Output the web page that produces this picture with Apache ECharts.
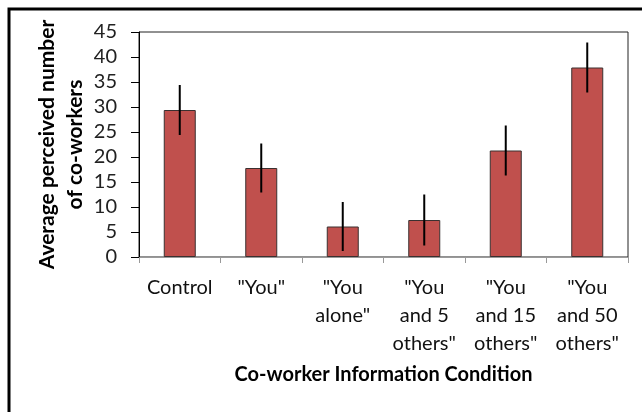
<!DOCTYPE html>
<html>
<head>
<meta charset="utf-8">
<script src="https://cdn.jsdelivr.net/npm/echarts@6/dist/echarts.min.js"></script>
<style>
  html, body { margin: 0; padding: 0; background: #fff; }
  #main { width: 642px; height: 412px; }
</style>
</head>
<body>
<div id="main"></div>
<script>
// data
var categories = ['Control', '"You"', '"You\nalone"', '"You\nand 5\nothers"', '"You\nand 15\nothers"', '"You\nand 50\nothers"'];
var means = [29.4, 17.8, 6.1, 7.4, 21.3, 37.9];
var errors = [5.0, 4.9, 4.9, 5.1, 5.0, 5.0];
var yTicks = [0, 5, 10, 15, 20, 25, 30, 35, 40, 45];

var fontFamily = 'Lato, "Open Sans", sans-serif';

var myChart = echarts.init(document.getElementById('main'));

var errData = means.map(function (m, i) {
  return [i, m - errors[i], m + errors[i]];
});

var option = {
  animation: false,
  backgroundColor: '#fff',
  graphic: [{
    type: 'rect',
    shape: { x: 9, y: 9, width: 700, height: 500 },
    style: { fill: 'none', stroke: '#000', lineWidth: 3 }
  }],
  grid: {
    left: 139,
    right: 14,
    top: 32,
    bottom: 155,
    show: true,
    borderColor: '#222',
    borderWidth: 1
  },
  xAxis: {
    type: 'category',
    data: categories,
    name: 'Co-worker Information Condition',
    nameLocation: 'middle',
    nameGap: 108,
    nameMoveOverlap: false,
    nameTextStyle: { fontFamily: fontFamily, fontSize: 20, fontWeight: 'bold', color: '#000' },
    axisLine: { lineStyle: { color: '#999', width: 1 } },
    axisTick: { show: true, length: 6, lineStyle: { color: '#999' } },
    axisLabel: {
      fontFamily: fontFamily,
      fontSize: 20,
      color: '#111',
      lineHeight: 28,
      margin: 17,
      interval: 0,
      verticalAlign: 'top'
    }
  },
  yAxis: {
    type: 'value',
    min: yTicks[0],
    max: yTicks[yTicks.length - 1],
    interval: 5,
    name: 'Average perceived number\nof co-workers',
    nameLocation: 'middle',
    nameGap: 50,
    nameMoveOverlap: false,
    nameTextStyle: { fontFamily: fontFamily, fontSize: 21, fontWeight: 'bold', color: '#000', lineHeight: 28 },
    axisLine: { show: true, lineStyle: { color: '#000', width: 1 } },
    axisTick: { show: true, length: 8, lineStyle: { color: '#000' } },
    axisLabel: { fontFamily: fontFamily, fontSize: 20, color: '#222', margin: 22 },
    splitLine: { show: false }
  },
  series: [
    {
      type: 'bar',
      data: means,
      barWidth: 32,
      itemStyle: { color: '#C0504D', borderColor: '#3a3030', borderWidth: 1 }
    },
    {
      type: 'custom',
      data: errData,
      z: 10,
      renderItem: function (params, api) {
        var lo = api.coord([api.value(0), api.value(1)]);
        var hi = api.coord([api.value(0), api.value(2)]);
        return {
          type: 'line',
          shape: { x1: lo[0], y1: lo[1], x2: hi[0], y2: hi[1] },
          style: { stroke: '#000', lineWidth: 2 }
        };
      }
    }
  ]
};
myChart.setOption(option);
</script>
</body>
</html>
